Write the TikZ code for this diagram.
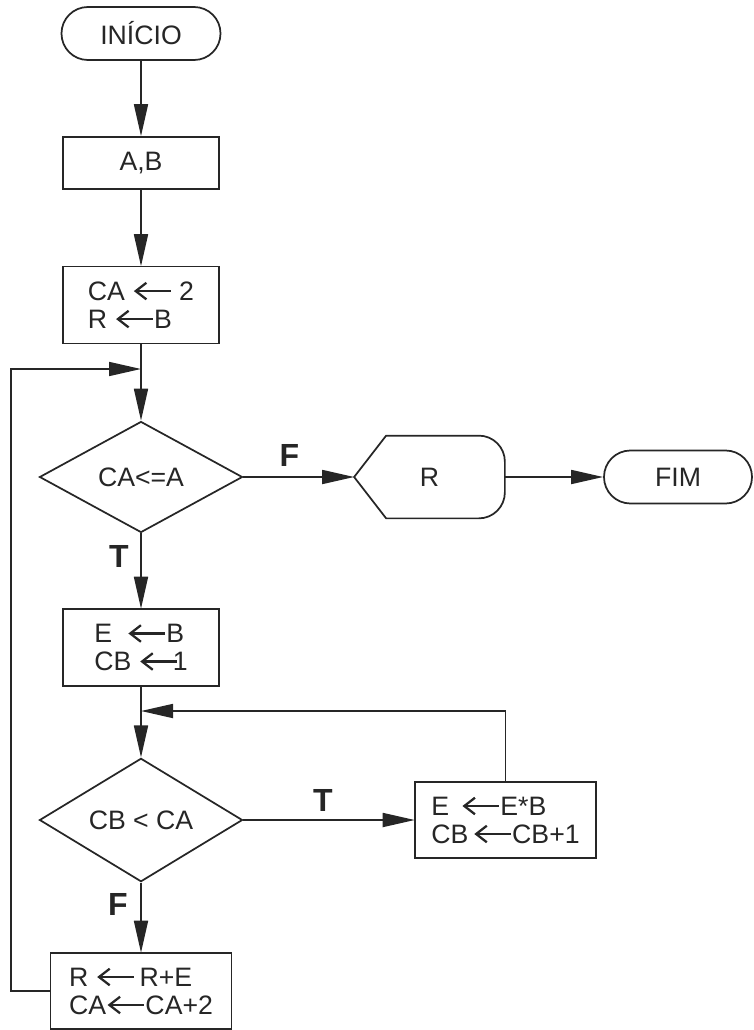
\documentclass[tikz,border=0pt]{standalone}
\usepackage{fontspec}
\setmainfont{Liberation Sans}
\usetikzlibrary{arrows.meta,shapes.geometric,calc}
\newcommand{\lar}{\tikz[baseline=-0.34em]\draw[line width=0.085em,{Straight Barb[length=0.4em,width=0.62em]}-](0,0)--(1.38em,0);}
\begin{document}
\begin{tikzpicture}[x=0.75pt,y=-0.75pt,
  line width=1.3pt, color=black!85,
  every node/.style={font=\fontsize{20pt}{21pt}\selectfont},
  box/.style={draw, fill=white, rectangle, minimum width=117pt, minimum height=57.75pt, inner sep=0pt, align=left},
  term/.style={draw, fill=white, rectangle, rounded corners=19.8pt, minimum width=119.25pt, minimum height=39.75pt, inner sep=0pt},
  dec/.style={draw, fill=white, diamond, inner sep=0pt, minimum width=152.25pt, minimum height=83.25pt},
  arr/.style={-{Triangle[length=24pt,width=10.5pt]}},
  lbl/.style={font=\fontsize{24pt}{26pt}\selectfont\bfseries, inner sep=0pt}
]
\useasboundingbox (0,0) rectangle (753,1030);
% nodes
\node[term] (start) at (141,33.5) {INÍCIO};
\node[box, minimum height=39pt] (ab) at (141,163) {A,B};
\node[box] (init) at (141,305) {CA~\lar~2\\R~\lar B};
\node[dec] (d1) at (141,477) {CA<=A};
\node[minimum width=111.75pt, minimum height=60.75pt, inner sep=0pt] (out) at (429.5,477) {R};
\draw (out.west) -- ([xshift=24pt]out.north west) -- ([xshift=-19.5pt]out.north east)
  arc[start angle=90,end angle=0,radius=19.5pt] -- ([yshift=19.5pt]out.south east)
  arc[start angle=0,end angle=-90,radius=19.5pt] -- ([xshift=24pt]out.south west) -- cycle;
\node[term, minimum width=111pt] (fim) at (678,477) {FIM};
\node[box] (e1) at (141,647.5) {E~~\lar B\\CB~\lar\hspace{-0.2em}1};
\node[dec] (d2) at (141,820) {CB < CA};
\node[box, minimum width=135.75pt, minimum height=57pt] (e2) at (505.5,820) {E~\,\lar E*B\\CB\,\lar CB+1};
\node[box, minimum width=135.75pt, minimum height=57pt] (rbox) at (141,991) {R~\lar\,R+E\\CA\lar CA+2};
\coordinate (j1) at (141,369);
\coordinate (j2) at (141,711);
% labels
\node[lbl] (f1) at (289.5,455) {F};
\node[lbl] (t1) at (119,556) {T};
\node[lbl] (t2) at (323,800) {T};
\node[lbl] (f2) at (118,904) {F};
% connectors
\draw[arr] (start) -- (ab);
\draw[arr] (ab) -- (init);
\draw[arr] (init) -- (d1);
\draw[arr] (d1) -- (out.west);
\draw[arr] (out) -- (fim);
\draw[arr] (d1) -- (e1);
\draw[arr] (e1) -- (d2);
\draw[arr] (d2) -- (e2);
\draw[arr] (e2.north) |- (j2);
\draw[arr] (d2) -- (rbox);
\draw[arr] (rbox.west) -- ++(-39,0) |- (j1);
\end{tikzpicture}
\end{document}
